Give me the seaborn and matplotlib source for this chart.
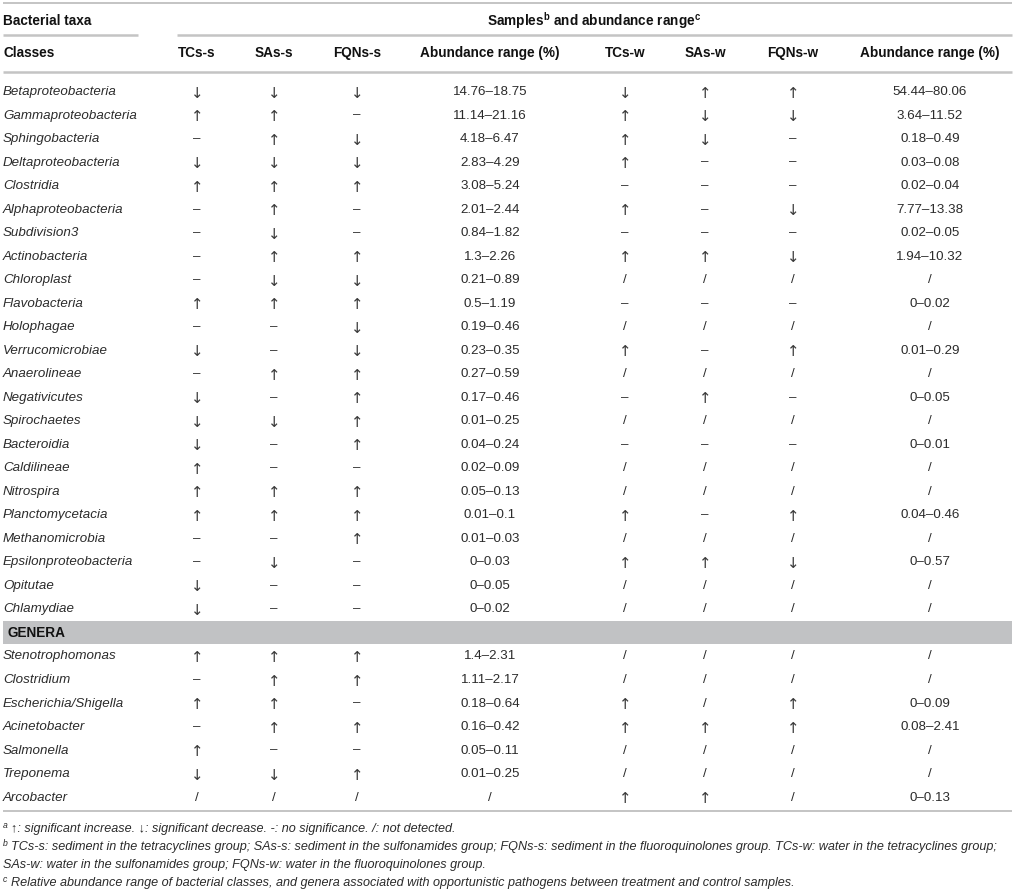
import matplotlib
matplotlib.use("Agg")
import matplotlib.pyplot as plt
import seaborn as sns

# ---------------- data ----------------
col_headers = ["TCs-s", "SAs-s", "FQNs-s", "Abundance range (%)",
               "TCs-w", "SAs-w", "FQNs-w", "Abundance range (%)"]

classes = ["Betaproteobacteria", "Gammaproteobacteria", "Sphingobacteria",
           "Deltaproteobacteria", "Clostridia", "Alphaproteobacteria",
           "Subdivision3", "Actinobacteria", "Chloroplast", "Flavobacteria",
           "Holophagae", "Verrucomicrobiae", "Anaerolineae", "Negativicutes",
           "Spirochaetes", "Bacteroidia", "Caldilineae", "Nitrospira",
           "Planctomycetacia", "Methanomicrobia", "Epsilonproteobacteria",
           "Opitutae", "Chlamydiae"]
cls_tcs_s = ["↓", "↑", "–", "↓", "↑", "–", "–", "–", "–", "↑", "–", "↓", "–", "↓", "↓", "↓", "↑", "↑", "↑", "–", "–", "↓", "↓"]
cls_sas_s = ["↓", "↑", "↑", "↓", "↑", "↑", "↓", "↑", "↓", "↑", "–", "–", "↑", "–", "↓", "–", "–", "↑", "↑", "–", "↓", "–", "–"]
cls_fqn_s = ["↓", "–", "↓", "↓", "↑", "–", "–", "↑", "↓", "↑", "↓", "↓", "↑", "↑", "↑", "↑", "–", "↑", "↑", "↑", "–", "–", "–"]
cls_range_s = ["14.76–18.75", "11.14–21.16", "4.18–6.47", "2.83–4.29", "3.08–5.24",
               "2.01–2.44", "0.84–1.82", "1.3–2.26", "0.21–0.89", "0.5–1.19",
               "0.19–0.46", "0.23–0.35", "0.27–0.59", "0.17–0.46", "0.01–0.25",
               "0.04–0.24", "0.02–0.09", "0.05–0.13", "0.01–0.1", "0.01–0.03",
               "0–0.03", "0–0.05", "0–0.02"]
cls_tcs_w = ["↓", "↑", "↑", "↑", "–", "↑", "–", "↑", "/", "–", "/", "↑", "/", "–", "/", "–", "/", "/", "↑", "/", "↑", "/", "/"]
cls_sas_w = ["↑", "↓", "↓", "–", "–", "–", "–", "↑", "/", "–", "/", "–", "/", "↑", "/", "–", "/", "/", "–", "/", "↑", "/", "/"]
cls_fqn_w = ["↑", "↓", "–", "–", "–", "↓", "–", "↓", "/", "–", "/", "↑", "/", "–", "/", "–", "/", "/", "↑", "/", "↓", "/", "/"]
cls_range_w = ["54.44–80.06", "3.64–11.52", "0.18–0.49", "0.03–0.08", "0.02–0.04",
               "7.77–13.38", "0.02–0.05", "1.94–10.32", "/", "0–0.02",
               "/", "0.01–0.29", "/", "0–0.05", "/",
               "0–0.01", "/", "/", "0.04–0.46", "/",
               "0–0.57", "/", "/"]

genera = ["Stenotrophomonas", "Clostridium", "Escherichia/Shigella",
          "Acinetobacter", "Salmonella", "Treponema", "Arcobacter"]
gen_tcs_s = ["↑", "–", "↑", "–", "↑", "↓", "/"]
gen_sas_s = ["↑", "↑", "↑", "↑", "–", "↓", "/"]
gen_fqn_s = ["↑", "↑", "–", "↑", "–", "↑", "/"]
gen_range_s = ["1.4–2.31", "1.11–2.17", "0.18–0.64", "0.16–0.42", "0.05–0.11", "0.01–0.25", "/"]
gen_tcs_w = ["/", "/", "↑", "↑", "/", "/", "↑"]
gen_sas_w = ["/", "/", "/", "↑", "/", "/", "↑"]
gen_fqn_w = ["/", "/", "↑", "↑", "/", "/", "/"]
gen_range_w = ["/", "/", "0–0.09", "0.08–2.41", "/", "/", "0–0.13"]

footnotes = [
    ("a", "↑: significant increase. ↓: significant decrease. -: no significance. /: not detected."),
    ("b", "TCs-s: sediment in the tetracyclines group; SAs-s: sediment in the sulfonamides group; FQNs-s: sediment in the fluoroquinolones group. TCs-w: water in the tetracyclines group;"),
    ("", "SAs-w: water in the sulfonamides group; FQNs-w: water in the fluoroquinolones group."),
    ("c", "Relative abundance range of bacterial classes, and genera associated with opportunistic pathogens between treatment and control samples."),
]

# ---------------- style ----------------
sns.set_theme(style="white")
FONT = ["Liberation Sans", "DejaVu Sans"]
plt.rcParams["font.family"] = FONT
plt.rcParams["mathtext.fontset"] = "custom"
plt.rcParams["mathtext.rm"] = "Liberation Sans"
plt.rcParams["mathtext.bf"] = "Liberation Sans:bold"
plt.rcParams["mathtext.it"] = "Liberation Sans:italic"

W, H = 1016, 893
fig = plt.figure(figsize=(W / 100, H / 100), dpi=100)
ax = fig.add_axes([0, 0, 1, 1])
ax.set_xlim(0, W)
ax.set_ylim(H, 0)
ax.axis("off")

TXT = "#2b2b2b"
HDR = "#111111"
LINE = "#c4c4c4"
BAND = "#c1c2c4"
BODY = 9.6
HEAD = 9.8
FOOT = 9.1

col_x = [197, 274, 357, 490, 625, 705, 793, 930]
row0, dy = 92, 23.52

# lines
ax.plot([3, 1012], [3, 3], color=LINE, lw=1.4, solid_capstyle="butt")
ax.plot([3, 138], [35, 35], color=LINE, lw=1.8, solid_capstyle="butt")
ax.plot([177, 1012], [35, 35], color=LINE, lw=1.8, solid_capstyle="butt")
ax.plot([3, 1012], [72, 72], color=LINE, lw=1.8, solid_capstyle="butt")
ax.plot([3, 1012], [811, 811], color=LINE, lw=1.4, solid_capstyle="butt")

# headers
ax.text(3, 21, "Bacterial taxa", fontsize=HEAD, fontweight="bold", color=HDR,
        ha="left", va="center")
ax.text(594, 21, r"Samples$^{\mathbf{b}}$ and abundance range$^{\mathbf{c}}$",
        fontsize=HEAD, fontweight="bold", color=HDR, ha="center", va="center")
ax.text(3, 53, "Classes", fontsize=HEAD, fontweight="bold", color=HDR,
        ha="left", va="center")
for x, h in zip(col_x, col_headers):
    ax.text(x, 53, h, fontsize=HEAD, fontweight="bold", color=HDR,
            ha="center", va="center")


def draw_cell(x, y, c):
    if c in ("↑", "↓"):
        ax.text(x, y + 1, c, fontsize=10.8, color="#3a3a3a", family=["DejaVu Sans"],
                ha="center", va="center")
    else:
        ax.text(x, y, c, fontsize=BODY, color=TXT, ha="center", va="center")


def draw_row(y, name, cells):
    ax.text(3, y, name, fontsize=BODY, style="italic", color=TXT,
            ha="left", va="center")
    for x, c in zip(col_x, cells):
        draw_cell(x, y, c)


cls_cols = [cls_tcs_s, cls_sas_s, cls_fqn_s, cls_range_s,
            cls_tcs_w, cls_sas_w, cls_fqn_w, cls_range_w]
for i, name in enumerate(classes):
    draw_row(row0 + i * dy, name, [c[i] for c in cls_cols])

# genera band
gy = row0 + len(classes) * dy
ax.fill_between([3, 1012], gy - 11.5, gy + 11.5, color=BAND, lw=0)
ax.text(8, gy, "GENERA", fontsize=HEAD, fontweight="bold", color=HDR,
        ha="left", va="center")

gen_cols = [gen_tcs_s, gen_sas_s, gen_fqn_s, gen_range_s,
            gen_tcs_w, gen_sas_w, gen_fqn_w, gen_range_w]
for j, name in enumerate(genera):
    draw_row(row0 + (len(classes) + 1 + j) * dy, name, [c[j] for c in gen_cols])

# footnotes
fy = [829, 847, 865, 883]
for y, (sup, txt) in zip(fy, footnotes):
    if sup:
        ax.text(3, y - 4, sup, fontsize=6.2, style="italic", color=TXT,
                ha="left", va="center")
        ax.text(11, y, txt, fontsize=FOOT, style="italic", color=TXT,
                ha="left", va="center")
    else:
        ax.text(3, y, txt, fontsize=FOOT, style="italic", color=TXT,
                ha="left", va="center")

fig.savefig("out.png", dpi=100, facecolor="white")
